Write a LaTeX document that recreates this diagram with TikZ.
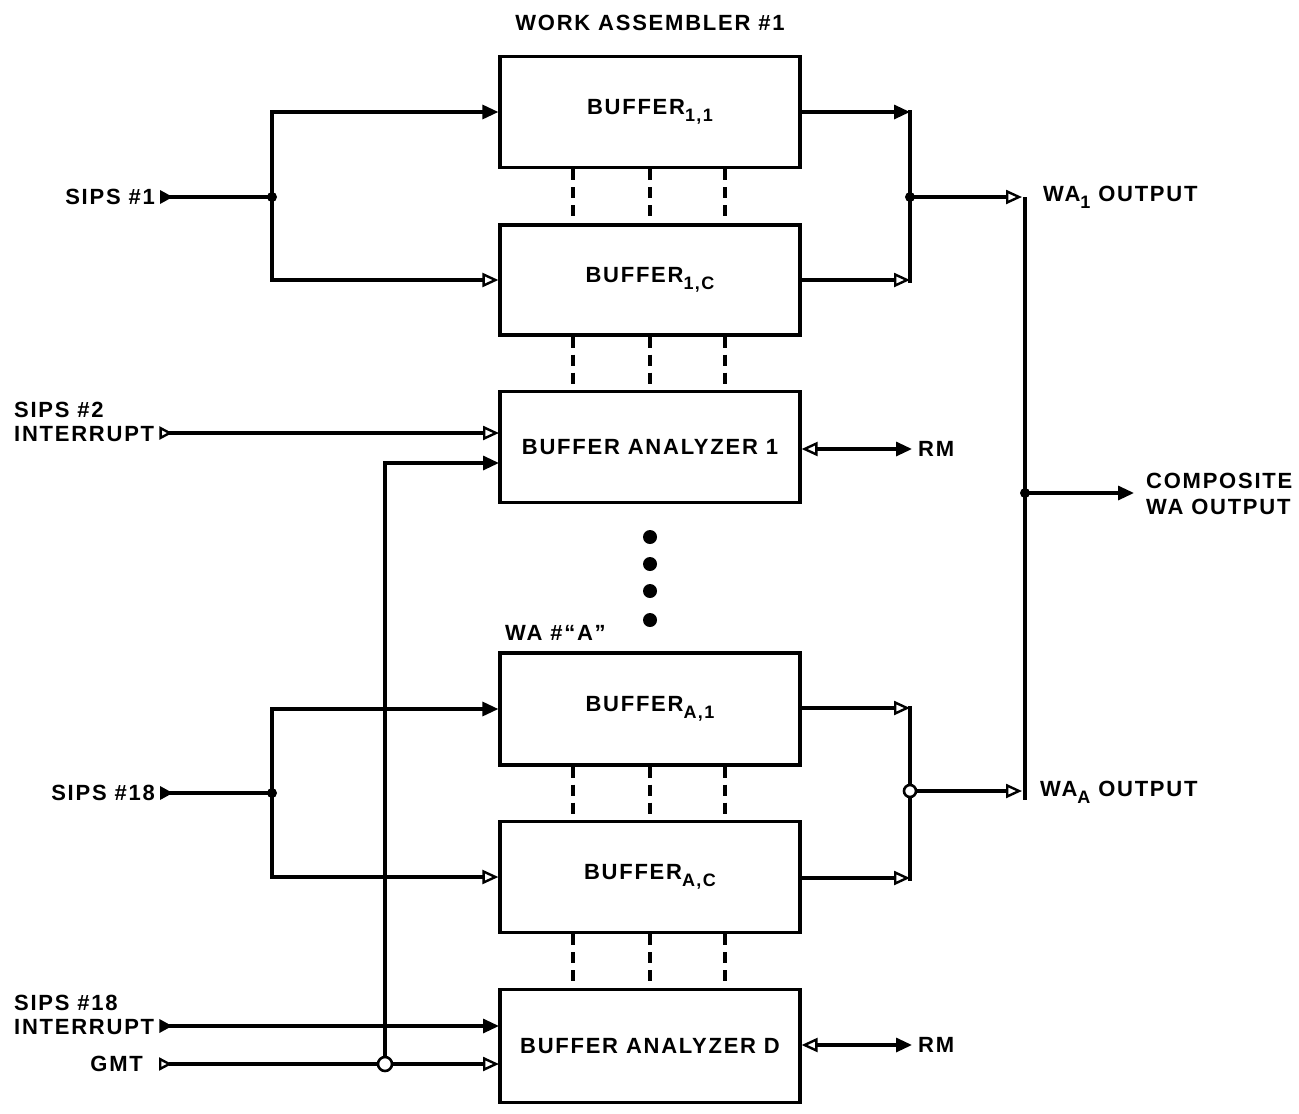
\documentclass[tikz,border=0pt]{standalone}
\usepackage{fontspec}
\usetikzlibrary{arrows.meta,calc}
\newfontfamily\lblfamily{Liberation Sans}[LetterSpace=8]
\newcommand\lbl{\lblfamily\bfseries\fontsize{22}{26}\selectfont}
\newcommand\sbs[1]{\raisebox{-7pt}{\fontsize{18}{18}\selectfont #1}}
\tikzset{
  box/.style={draw, line width=3.2pt, minimum width=300pt, inner sep=0pt, font=\lbl},
  wire/.style={line width=3.2pt},
  dashline/.style={line width=3.2pt, dash pattern=on 11pt off 7pt},
  txt/.style={font=\lbl, inner sep=0pt},
  fa/.style={-{Triangle[length=16pt,width=14pt]}},
  oa/.style={-{Triangle[open,length=16pt,width=14pt,line width=2.4pt]}},
  fs/.style={{Triangle[reversed,length=13pt,width=13pt]}-},
  os/.style={{Triangle[reversed,open,length=13pt,width=13pt,line width=2.4pt]}-},
  osa/.style={{Triangle[reversed,open,length=13pt,width=13pt,line width=2.4pt]}-{Triangle[open,length=16pt,width=14pt,line width=2.4pt]}},
  fsa/.style={{Triangle[reversed,length=13pt,width=13pt]}-{Triangle[length=16pt,width=14pt]}},
  rmarr/.style={{Triangle[open,length=16pt,width=14pt,line width=2.4pt]}-{Triangle[length=16pt,width=14pt]}},
  dot/.style={circle, fill, inner sep=0pt, minimum size=10pt},
  bigdot/.style={circle, fill, inner sep=0pt, minimum size=14pt},
  hdot/.style={circle, draw, line width=2.6pt, fill=white, inner sep=0pt, minimum size=14pt},
}
\begin{document}
\begin{tikzpicture}[x=1pt,y=-1pt]
\useasboundingbox (0,0) rectangle (1299,1114);

% boxes
\node[box, minimum height=111pt] (b11) at (650,112) {BUFFER\sbs{1,1}};
\node[box, minimum height=110pt] (b1c) at (650,280) {BUFFER\sbs{1,C}};
\node[box, minimum height=111pt] (ba1) at (650,447) {BUFFER ANALYZER 1};
\node[box, minimum height=112pt] (ba1x) at (650,709) {BUFFER\sbs{A,1}};
\node[box, minimum height=111pt] (bac) at (650,877) {BUFFER\sbs{A,C}};
\node[box, minimum height=113pt] (bad) at (650,1046) {BUFFER ANALYZER D};

% titles
\node[txt] (t1) at (650,23) {WORK ASSEMBLER \#1};
\node[txt, anchor=west] (t2) at (505,633) {WA \#“A”};

% dashed links between boxes
\foreach \a/\b in {b11/b1c, b1c/ba1, ba1x/bac, bac/bad}
  \foreach \dx in {-77,0,75}
    \draw[dashline] ([xshift=\dx pt]\a.south) -- ([xshift=\dx pt]\b.north);

% continuation dots
\foreach \yy [count=\i] in {537,564,591,620}
  \node[bigdot] (cd\i) at (650,\yy) {};

% ---- Work assembler 1 inputs
\node[txt, anchor=east] (s1) at (155,197) {SIPS \#1};
\coordinate (j1) at (272,197);
\draw[wire, fs] ([xshift=5pt]s1.east) -- (j1);
\draw[wire, fa] (j1) |- (b11.west);
\draw[wire, oa] (j1) |- (b1c.west);
\node[dot] (j1d) at (j1) {};

\node[txt, anchor=west] (s2a) at (14,410) {SIPS \#2};
\node[txt, anchor=west] (s2) at (14,434) {INTERRUPT};
\coordinate (ba1in1) at (499,433);
\coordinate (ba1in2) at (499,463);
\draw[wire, osa] ([xshift=5pt]s2.east |- ba1in1) -- (ba1in1);

% ---- WA A inputs
\node[txt, anchor=east] (s18) at (155,793) {SIPS \#18};
\coordinate (j2) at (272,793);
\draw[wire, fs] ([xshift=5pt]s18.east) -- (j2);
\draw[wire, fa] (j2) |- (ba1x.west);
\draw[wire, oa] (j2) |- (bac.west);
\node[dot] (j2d) at (j2) {};

\node[txt, anchor=west] (s18a) at (14,1003) {SIPS \#18};
\node[txt, anchor=west] (s18i) at (14,1027) {INTERRUPT};
\node[txt, anchor=east] (gmt) at (143,1064) {GMT};
\coordinate (badin1) at (499,1026);
\coordinate (badin2) at (499,1064);
\draw[wire, fsa] ([xshift=5pt]s18i.east |- badin1) -- (badin1);
\draw[wire, osa] ([xshift=16pt]gmt.east |- badin2) -- (badin2);
\coordinate (gj) at (385,1064);
\draw[wire, fa] (gj) |- (ba1in2);
\node[hdot] (gjd) at (gj) {};

% ---- outputs WA1
\coordinate (m1t) at (910,110);
\coordinate (m1b) at (910,283);
\coordinate (m1) at (910,197);
\draw[wire] (m1t) -- (m1b);
\draw[wire, fa] (b11.east) -- (b11.east -| m1t);
\draw[wire, oa] (b1c.east) -- (b1c.east -| m1t);
\coordinate (bus1) at (1025,197);
\coordinate (bus2) at (1025,800);
\draw[wire] (bus1) -- (bus2);
\draw[wire, oa] (m1) -- ([xshift=-3pt]bus1);
\node[dot] (m1d) at (m1) {};
\node[txt, anchor=west] (wa1) at (1043,197) {WA\sbs{1} OUTPUT};

% ---- outputs WA A
\coordinate (m2t) at (910,706);
\coordinate (m2b) at (910,881);
\coordinate (m2) at (910,791);
\draw[wire] (m2t) -- (m2b);
\draw[wire, oa] (ba1x.east |- 0,708) -- (m2t |- 0,708);
\draw[wire, oa] (bac.east |- 0,878) -- (m2t |- 0,878);
\draw[wire, oa] (m2) -- ([xshift=-3pt]bus1 |- m2);
\node[hdot, minimum size=12pt] (m2d) at (m2) {};
\node[txt, anchor=west] (waa) at (1040,792) {WA\sbs{A} OUTPUT};

% ---- composite
\coordinate (cj) at (1025,493);
\node[txt, anchor=west, align=left] (comp) at (1146,494) {COMPOSITE\\WA OUTPUT};
\draw[wire, fa] (cj) -- ([xshift=-12pt]comp.west |- cj);
\node[dot] (cjd) at (cj) {};

% ---- RM
\node[txt, anchor=west] (rm1) at (918,449) {RM};
\node[txt, anchor=west] (rm2) at (918,1045) {RM};
\draw[wire, rmarr] (ba1.east |- rm1) -- ([xshift=-6pt]rm1.west);
\draw[wire, rmarr] (bad.east |- rm2) -- ([xshift=-6pt]rm2.west);
\end{tikzpicture}
\end{document}
